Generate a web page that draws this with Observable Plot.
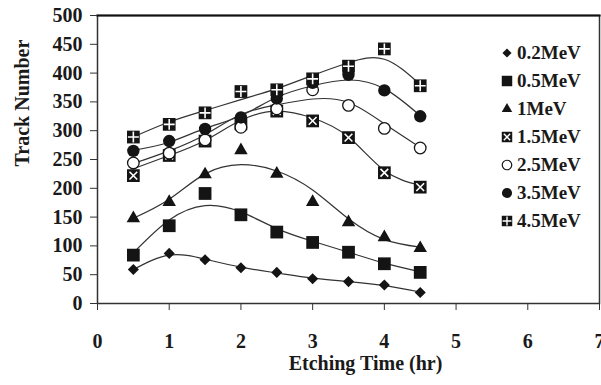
<!DOCTYPE html>
<html><head><meta charset="utf-8">
<script src="https://cdn.jsdelivr.net/npm/d3@7"></script>
<script src="https://cdn.jsdelivr.net/npm/@observablehq/plot@0.6"></script>
<style>
body{margin:0;background:#fff;}
#wrap{position:relative;width:601px;height:385px;font-family:"Liberation Serif","Times New Roman",serif;}
#legend{position:absolute;left:500px;top:39px;}
.row{display:flex;align-items:center;height:28px;font-weight:bold;font-size:19px;color:#1a1a1a;white-space:nowrap;}
.row svg{width:14px;height:14px;margin-right:3px;}
</style></head><body><div id="wrap"><div id="legend"></div></div>
<script>
const times = [0.5, 1, 1.5, 2, 2.5, 3, 3.5, 4, 4.5];
const seriesNames = ["0.2MeV", "0.5MeV", "1MeV", "1.5MeV", "2.5MeV", "3.5MeV", "4.5MeV"];
// measured track numbers
const tracks02 = [59, 87, 76, 62, 54, 43, 38, 32, 19];
const tracks05 = [84, 135, 191, 154, 124, 106, 89, 69, 54];
const tracks1 = [148, 176, 224, 266, 225, 176, 141, 115, 96];
const tracks15 = [222, 257, 282, 312, 334, 317, 288, 227, 202];
const tracks25 = [244, 261, 284, 306, 338, 371, 344, 304, 270];
const tracks35 = [265, 282, 303, 323, 356, 383, 397, 370, 325];
const tracks45 = [289, 311, 331, 368, 371, 390, 412, 442, 378];
// trend line values
const trend02 = [59, 84, 77, 63, 53, 44, 38, 31, 20];
const trend05 = [88, 145, 170, 159, 130, 108, 89, 70, 55];
const trend1 = [148, 181, 225, 241, 230, 197, 147, 111, 98];
const trend15 = [234, 257, 283, 318, 334, 322, 289, 231, 205];
const trend25 = [243, 265, 293, 328, 345, 355, 349, 312, 271];
const trend35 = [266, 280, 304, 326, 358, 378, 388, 373, 326];
const trend45 = [289, 315, 335, 354, 373, 396, 418, 424, 380];
const xTicks = [0, 1, 2, 3, 4, 5, 6, 7];
const yTicks = [0, 50, 100, 150, 200, 250, 300, 350, 400, 450, 500];
const xTitle = "Etching Time (hr)";
const yTitle = "Track Number";

const measuredAll = [tracks02, tracks05, tracks1, tracks15, tracks25, tracks35, tracks45];
const trendAll = [trend02, trend05, trend1, trend15, trend25, trend35, trend45];
const points = [], trends = [];
seriesNames.forEach((s, i) => {
  times.forEach((t, j) => {
    points.push({series: s, time: t, tracks: measuredAll[i][j]});
    trends.push({series: s, time: t, tracks: trendAll[i][j]});
  });
});

const ink = "#141414";
const styles = {
  "0.2MeV": {symbol: "diamond2", r: 5, fill: ink},
  "0.5MeV": {symbol: "square", r: 7.2, fill: ink},
  "1MeV": {symbol: "triangle", r: 5, fill: ink},
  "1.5MeV": {symbol: "square", r: 7.2, fill: ink, overlay: "times"},
  "2.5MeV": {symbol: "circle", r: 5.8, fill: "white", stroke: ink},
  "3.5MeV": {symbol: "circle", r: 6.2, fill: ink},
  "4.5MeV": {symbol: "square", r: 7.2, fill: ink, overlay: "plus"}
};

const dotMarks = [];
seriesNames.forEach(s => {
  const st = styles[s];
  const data = points.filter(d => d.series === s);
  dotMarks.push(Plot.dot(data, {x: "time", y: "tracks", symbol: st.symbol, r: st.r, fill: st.fill, stroke: st.stroke || "none", strokeWidth: 1.3}));
  if (st.overlay) {
    dotMarks.push(Plot.dot(data, {x: "time", y: "tracks", symbol: st.overlay, r: 3.6, fill: "none", stroke: "white", strokeWidth: 1.6}));
  }
});

const chart = Plot.plot({
  width: 601, height: 385,
  marginLeft: 97, marginRight: 2, marginTop: 15, marginBottom: 82,
  style: {fontFamily: "'Liberation Serif','Times New Roman',serif", fontSize: "20px", fontWeight: "bold", color: "#1a1a1a", background: "white"},
  x: {domain: [0, 7]},
  y: {domain: [0, 500]},
  marks: [
    Plot.frame({stroke: "#333", strokeWidth: 1.5}),
    Plot.frame({anchor: "top", stroke: "#111", strokeWidth: 2.2}),
    Plot.axisY(yTicks, {tickSize: 7, tickPadding: 8, label: null, stroke: "#333"}),
    Plot.axisX(xTicks, {tickSize: 7, tickPadding: 23, label: null, stroke: "#333"}),
    Plot.line(trends, {x: "time", y: "tracks", z: "series", curve: "natural", stroke: "#333", strokeWidth: 1.2}),
    ...dotMarks,
    Plot.text([yTitle], {frameAnchor: "left", rotate: -90, dx: -75, dy: 7, fontSize: 20, fontWeight: "bold"}),
    Plot.text([xTitle], {frameAnchor: "bottom", dx: 17, dy: 66, fontSize: 20, fontWeight: "bold"})
  ]
});
document.getElementById("wrap").prepend(chart);

// legend
const legend = d3.select("#legend");
const symMap = {diamond2: d3.symbolDiamond2, square: d3.symbolSquare, triangle: d3.symbolTriangle2, circle: d3.symbolCircle, times: d3.symbolTimes, plus: d3.symbolPlus};
seriesNames.forEach(s => {
  const st = styles[s];
  const row = legend.append("div").attr("class", "row");
  const svg = row.append("svg").attr("viewBox", "-7 -7 14 14");
  const scale = st.symbol === "triangle" ? 1.0 : 0.82;
  svg.append("path").attr("d", d3.symbol(symMap[st.symbol], Math.PI * (st.r * scale) ** 2)())
    .attr("fill", st.fill).attr("stroke", st.stroke || "none").attr("stroke-width", 1.2);
  if (st.overlay) {
    svg.append("path").attr("d", d3.symbol(symMap[st.overlay], Math.PI * 3 * 3)())
      .attr("fill", "none").attr("stroke", "white").attr("stroke-width", 1.4);
  }
  row.append("span").text(s);
});
</script>
</body></html>
